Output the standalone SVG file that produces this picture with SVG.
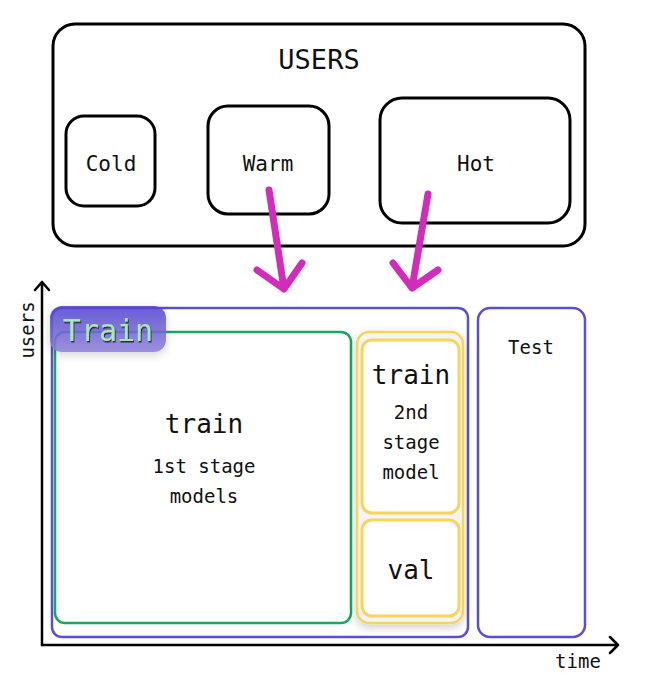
<svg xmlns="http://www.w3.org/2000/svg" width="648" height="691" viewBox="0 0 648 691">
<defs>
<style>
.t{font-family:"DejaVu Sans Mono","Liberation Mono",monospace;fill:#111;text-anchor:middle}
.blk{fill:#fff;stroke:#000;stroke-width:3}
.pur{fill:#fff;stroke:#5a4fd0;stroke-width:2.5}
.ylw{fill:#fff;stroke:#f7d45a;stroke-width:3}
.arr{fill:none;stroke:#d22cba;stroke-width:7;stroke-linecap:round;stroke-linejoin:round}
.ax{fill:none;stroke:#000;stroke-width:2.5;stroke-linecap:round;stroke-linejoin:round}
</style>
<linearGradient id="lg" x1="0" y1="0" x2="0" y2="1">
<stop offset="0" stop-color="#5344d0"/>
<stop offset="1" stop-color="#8d82dc"/>
</linearGradient>
<filter id="sh" x="-20%" y="-20%" width="140%" height="140%">
<feDropShadow dx="0" dy="3" stdDeviation="5" flood-color="#000" flood-opacity="0.2"/>
</filter>
<filter id="ts" x="-10%" y="-10%" width="120%" height="130%">
<feDropShadow dx="1" dy="1.5" stdDeviation="0.6" flood-color="#1a1a3a" flood-opacity="0.9"/>
</filter>
</defs>
<rect width="648" height="691" fill="#fff"/>
<g id="users">
<rect class="blk" x="53" y="24" width="532" height="222" rx="22"/>
<text class="t" x="319" y="69" font-size="27">USERS</text>
</g>
<g id="cold">
<rect class="blk" x="66" y="116" width="89" height="90" rx="18"/>
<text class="t" x="111" y="171" font-size="21">Cold</text>
</g>
<g id="warm">
<rect class="blk" x="208" y="106" width="121" height="108" rx="20"/>
<text class="t" x="268" y="171" font-size="21">Warm</text>
</g>
<g id="hot">
<rect class="blk" x="380" y="98" width="190" height="125" rx="22"/>
<text class="t" x="476" y="171" font-size="21">Hot</text>
</g>
<g id="axes">
<path class="ax" d="M42 645 V282 M35 290 L42 282 L49 290"/>
<path class="ax" d="M42 645 H618 M610 637 L618 645 L610 653"/>
<text class="t" x="0" y="0" font-size="19" transform="translate(34 330) rotate(-90)">users</text>
<text class="t" x="578" y="668" font-size="19">time</text>
</g>
<g id="train-outer">
<rect class="pur" x="52" y="308" width="416" height="329" rx="10"/>
</g>
<g id="test">
<rect class="pur" x="478" y="308" width="107" height="329" rx="12"/>
<text class="t" x="531" y="354" font-size="19">Test</text>
</g>
<g id="train1">
<rect x="55" y="332" width="296" height="291" rx="10" fill="#fff" stroke="#1aa760" stroke-width="2.5"/>
<text class="t" x="204" y="433" font-size="26">train</text>
<text class="t" x="204" y="473" font-size="19">1st stage</text>
<text class="t" x="204" y="503" font-size="19">models</text>
</g>
<g id="stage2">
<rect x="357" y="332" width="106" height="291" rx="12" fill="#f4f4f4" stroke="#f7d45a" stroke-width="2.5" filter="url(#sh)"/>
</g>
<g id="train2">
<rect class="ylw" x="362" y="340" width="97" height="173" rx="10"/>
<text class="t" x="411" y="384" font-size="26">train</text>
<text class="t" x="411" y="419" font-size="19">2nd</text>
<text class="t" x="411" y="449" font-size="19">stage</text>
<text class="t" x="411" y="479" font-size="19">model</text>
</g>
<g id="val">
<rect class="ylw" x="362" y="520" width="97" height="96" rx="10"/>
<text class="t" x="411" y="579" font-size="26">val</text>
</g>
<g id="train-label">
<rect x="50" y="306" width="116" height="46" rx="12" fill="url(#lg)" fill-opacity="0.85" filter="url(#sh)"/>
<text class="t" x="108" y="341" font-size="30" style="fill:#a6e8b6" filter="url(#ts)">Train</text>
</g>
<g id="connectors">
<path class="arr" d="M269 190 L284 289 M257 270 L284 289 L302 263"/>
<path class="arr" d="M428 194 L412 288 M393 263 L412 288 L438 270"/>
</g>
</svg>
